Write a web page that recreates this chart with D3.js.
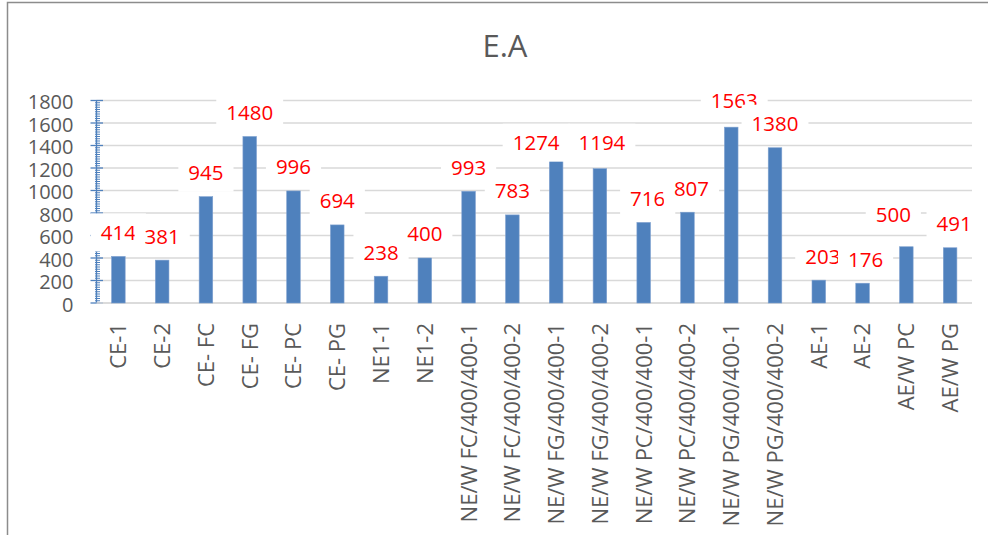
<!DOCTYPE html>
<html>
<head>
<meta charset="utf-8">
<script src="https://cdn.jsdelivr.net/npm/d3@7"></script>
<style>
  html, body { margin: 0; padding: 0; background: #fff; }
  svg { display: block; }
  text { font-family: "Open Sans", "Noto Sans", sans-serif; }
</style>
</head>
<body>
<svg id="chart" width="988" height="535"></svg>
<script>
const categories = ["CE-1", "CE-2", "CE- FC", "CE- FG", "CE- PC", "CE- PG", "NE1-1", "NE1-2",
  "NE/W FC/400/400-1", "NE/W FC/400/400-2", "NE/W FG/400/400-1", "NE/W FG/400/400-2",
  "NE/W PC/400/400-1", "NE/W PC/400/400-2", "NE/W PG/400/400-1", "NE/W PG/400/400-2",
  "AE-1", "AE-2", "AE/W PC", "AE/W PG"];
const values = [414, 381, 945, 1480, 996, 694, 238, 400, 993, 783, 1274, 1194, 716, 807, 1563, 1380, 203, 176, 500, 491];
const yTicks = [0, 200, 400, 600, 800, 1000, 1200, 1400, 1600, 1800];
const chartTitle = "E.A";

(function () {
const svg = d3.select("#chart");
const W = 988, H = 535;
const pLeft = 96.5, pRight = 972, pTop = 100.5, pBottom = 303;

svg.append("rect").attr("width", W).attr("height", H).attr("fill", "#fff");

// outer frame
svg.append("path")
  .attr("d", `M7.5,${H} L7.5,2.5 L${W},2.5`)
  .attr("fill", "none").attr("stroke", "#8c8c8c").attr("stroke-width", 1.5);

const x = d3.scaleBand().domain(categories).range([pLeft, pRight]).paddingInner(0.69).paddingOuter(0.345);
const y = d3.scaleLinear().domain([0, 1800]).range([pBottom, pTop]);

// title
svg.append("text").attr("x", 505).attr("y", 57).attr("text-anchor", "middle")
  .attr("font-size", 31).attr("fill", "#595959").text(chartTitle);

// gridlines
svg.append("g").selectAll("line").data(yTicks).join("line")
  .attr("x1", pLeft).attr("x2", pRight)
  .attr("y1", d => y(d)).attr("y2", d => y(d))
  .attr("stroke", "#d9d9d9").attr("stroke-width", 1.3);

// y axis labels
const yAxis = d3.axisLeft(y).tickValues(yTicks).tickSize(0).tickPadding(0).tickFormat(d3.format("d"));
const gy = svg.append("g").attr("transform", `translate(${pLeft - 23},0)`).call(yAxis);
gy.select(".domain").remove();
gy.selectAll("text").attr("font-size", 20).attr("fill", "#595959")
  .attr("font-family", "'Open Sans', sans-serif").attr("dy", "0.4em");

// y axis line and ticks
const axisColor = "#4f81bd";
svg.append("line").attr("x1", pLeft).attr("x2", pLeft).attr("y1", pTop).attr("y2", pBottom)
  .attr("stroke", axisColor).attr("stroke-width", 1.3);
svg.append("g").selectAll("line").data(yTicks).join("line")
  .attr("x1", pLeft - 6).attr("x2", pLeft + 6.5)
  .attr("y1", d => y(d)).attr("y2", d => y(d))
  .attr("stroke", axisColor).attr("stroke-width", 1.3);
const minor = d3.range(0, 1801, 20).filter(v => v % 200 !== 0);
svg.append("g").selectAll("line").data(minor).join("line")
  .attr("x1", pLeft - 1.5).attr("x2", pLeft + 3.5)
  .attr("y1", d => y(d)).attr("y2", d => y(d))
  .attr("stroke", axisColor).attr("stroke-width", 1);

// x axis line
svg.append("line").attr("x1", pLeft).attr("x2", pRight).attr("y1", pBottom).attr("y2", pBottom)
  .attr("stroke", "#d9d9d9").attr("stroke-width", 1.5);

// bars
svg.append("g").selectAll("rect").data(values).join("rect")
  .attr("x", (d, i) => x(categories[i]))
  .attr("width", x.bandwidth())
  .attr("y", d => y(d))
  .attr("height", d => pBottom - y(d))
  .attr("fill", "#4f81bd").attr("stroke", "#7ea0cf").attr("stroke-width", 0.6);

// category labels
const xAxis = d3.axisBottom(x).tickSize(0).tickPadding(0);
const gx = svg.append("g").attr("transform", `translate(0,${pBottom})`).call(xAxis);
gx.select(".domain").remove();
gx.selectAll("text")
  .attr("font-size", 22).attr("fill", "#595959")
  .attr("font-family", "'Open Sans', sans-serif")
  .attr("text-anchor", "end")
  .attr("transform", "rotate(-90)")
  .attr("x", -20).attr("y", 0).attr("dy", "0.36em");

// data labels with white boxes (a few nudged as the spreadsheet placed them)
const labelNudge = {
  "NE/W FG/400/400-1": [-20, 7],
  "NE/W FG/400/400-2": [2, -2],
  "NE/W PC/400/400-1": [4, 0],
  "NE/W PG/400/400-1": [3, -3],
  "NE/W PC/400/400-2": [4, 0],
  "AE-1": [4, 0],
  "AE-2": [3, 0],
  "AE/W PC": [-13, -8],
  "AE/W PG": [4, 0]
};
const lg = svg.append("g");
values.forEach((v, i) => {
  const c = categories[i];
  const nd = labelNudge[c] || [0, 0];
  const cx = x(c) + x.bandwidth() / 2 + nd[0];
  const cy = y(v) - 24 + nd[1];
  const g = lg.append("g");
  const r = g.append("rect").attr("fill", "#fff");
  const t = g.append("text").attr("x", cx).attr("y", cy).attr("dy", "0.36em")
    .attr("text-anchor", "middle").attr("font-size", 20.5).attr("fill", "#ff0000").text(v);
  const w = t.node().getComputedTextLength();
  r.attr("x", cx - w / 2 - 10).attr("width", w + 20).attr("y", cy - 19).attr("height", 38);
});
})();
</script>
</body>
</html>
